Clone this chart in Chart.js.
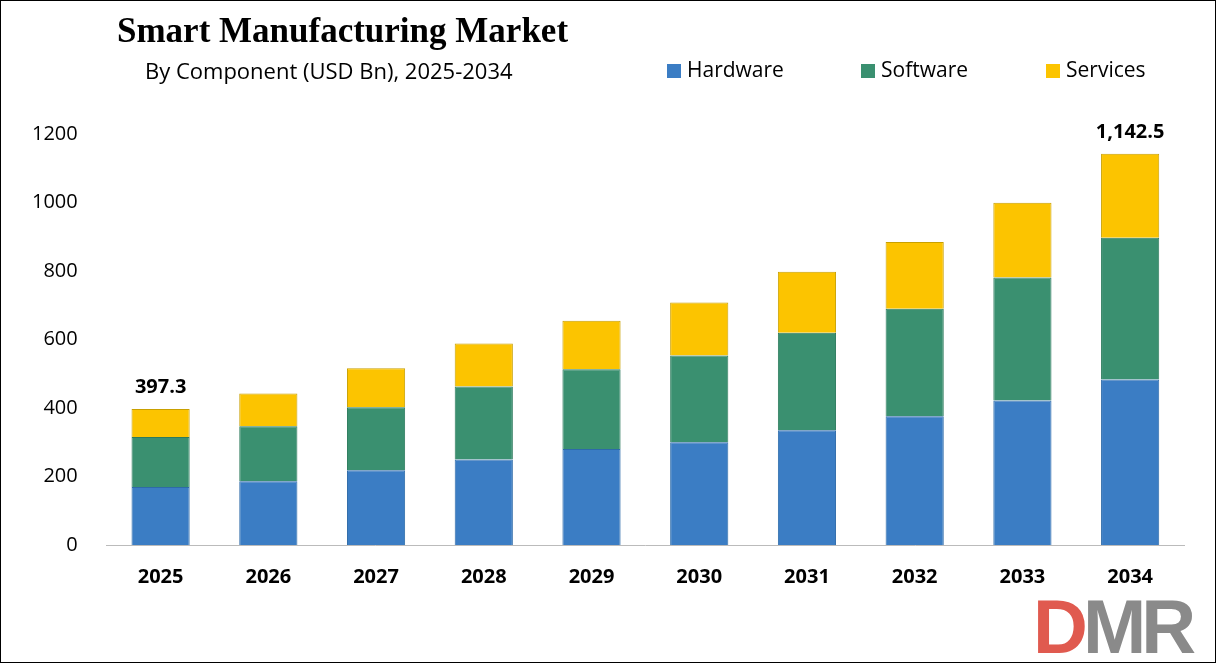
<!DOCTYPE html>
<html><head><meta charset="utf-8">
<script src="https://cdn.jsdelivr.net/npm/chart.js@4"></script>
<style>
html,body{margin:0;padding:0;background:#fff;}
#wrap{position:relative;width:1214px;height:661px;border:1px solid #000;overflow:hidden;}
#title{position:absolute;left:116px;top:10px;font:bold 35px "Liberation Serif";color:#000;}
#sub{position:absolute;left:144px;top:54px;font:22px "Open Sans","Liberation Sans";color:#000;}
.leg{position:absolute;top:54px;font:21px "Open Sans","Liberation Sans";color:#000;}
.sw{display:inline-block;width:14px;height:14px;margin-right:6px;vertical-align:-1px;}
#logo{position:absolute;left:1032px;top:596px;font:bold 76px "Liberation Sans";letter-spacing:-5px;line-height:60px;}
canvas{position:absolute;left:0;top:0;}
</style></head><body>
<div id="wrap">
<canvas id="c" width="1214" height="661"></canvas>
<div id="title">Smart Manufacturing Market</div>
<div id="sub">By Component (USD Bn), 2025-2034</div>
<div class="leg" style="left:666px"><span class="sw" style="background:#3b7dc4"></span>Hardware</div>
<div class="leg" style="left:860px"><span class="sw" style="background:#3a9070"></span>Software</div>
<div class="leg" style="left:1045px"><span class="sw" style="background:#fcc400"></span>Services</div>
<div id="logo"><span style="color:#e05a4f">D</span><span style="color:#8a8a8a">M</span><span style="color:#8a8a8a">R</span></div>
</div>
<script>
const years=["2025","2026","2027","2028","2029","2030","2031","2032","2033","2034"];
const hardware=[169,186,218,250,280,300,335,376,422,483];
const software=[146,161,184,213,233,253,285,314,359,414];
const services=[82.3,95,114,125,142,155,178,195,218,245.5];
const totalLabels={0:"397.3",9:"1,142.5"};
const lbl={id:'lbl',afterDatasetsDraw(ch){const c=ch.ctx;const m=ch.getDatasetMeta(2);c.save();c.font='bold 20px "Open Sans","Liberation Sans"';c.textAlign='center';c.fillStyle='#000';
for(const k in totalLabels){const b=m.data[k];c.fillText(totalLabels[k],b.x,b.y-16);}c.restore();}};
new Chart(document.getElementById('c'),{type:'bar',
data:{labels:years,datasets:[
{label:'Hardware',data:hardware,backgroundColor:'#3b7dc4',borderColor:'#2d6aa8',borderWidth:1},
{label:'Software',data:software,backgroundColor:'#3a9070',borderColor:'#2c7a5c',borderWidth:1},
{label:'Services',data:services,backgroundColor:'#fcc400',borderColor:'#c9a000',borderWidth:1}]},
options:{responsive:false,animation:false,layout:{padding:{top:133,right:31,left:10,bottom:61}},
datasets:{bar:{categoryPercentage:1,barPercentage:0.54}},
plugins:{legend:{display:false},tooltip:{enabled:false}},
scales:{x:{stacked:true,grid:{display:false},border:{color:'#bbb'},ticks:{color:'#000',padding:12,font:{size:20,weight:'bold',family:'"Open Sans","Liberation Sans"'}}},
y:{stacked:true,min:0,max:1200,grid:{display:false},border:{display:false},ticks:{stepSize:200,color:'#000',padding:21,callback:v=>String(v),font:{size:20,family:'"Open Sans","Liberation Sans"'}}}}},
plugins:[lbl]});
</script></body></html>
